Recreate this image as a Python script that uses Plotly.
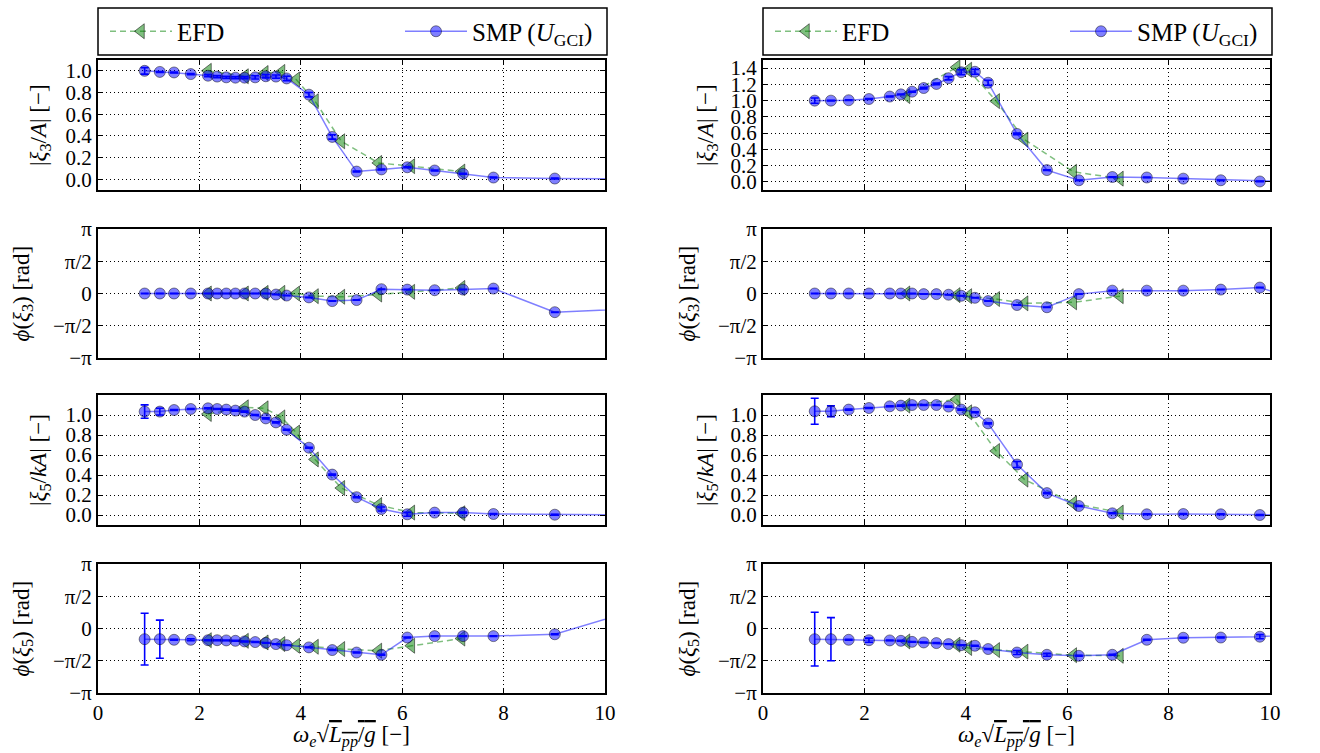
import numpy as np
import plotly.graph_objects as go

PI = np.pi

# ---------------- data ----------------
# left column (case 1)
smp_freq_left = [0.92, 1.22, 1.5, 1.83, 2.17, 2.35, 2.53, 2.71, 2.89, 3.1, 3.31, 3.51, 3.72,
                 4.16, 4.62, 5.1, 5.59, 6.1, 6.64, 7.2, 7.8, 9.01, 11.0]
efd_freq_left = [2.17, 2.9, 3.29, 3.62, 3.91, 4.28, 4.8, 5.53, 6.18, 7.17]

smp_heave_amp_left = [1.0, 0.99, 0.985, 0.97, 0.955, 0.947, 0.94, 0.937, 0.937, 0.94, 0.95, 0.947, 0.93,
                      0.78, 0.39, 0.07, 0.09, 0.11, 0.08, 0.05, 0.015, 0.006, 0.0]
smp_heave_amp_err_left = [0.03, 0.004, 0.004, 0.006, 0.01, 0.01, 0.01, 0.01, 0.01, 0.015, 0.015, 0.015, 0.02,
                          0.02, 0.02, 0.004, 0.004, 0.004, 0.004, 0.004, 0.004, 0.004, 0.0]
efd_heave_amp_left = [1.0, 0.95, 0.98, 0.99, 0.92, 0.72, 0.35, 0.15, 0.12, 0.07]

smp_heave_phase_left = [0, 0, 0, 0, 0, 0, 0, 0, 0, 0, 0, -0.05, -0.1,
                        -0.19, -0.37, -0.32, 0.21, 0.19, 0.16, 0.19, 0.24, -0.91, -0.69]
smp_heave_phase_err_left = [0.01] * 23
efd_heave_phase_left = [0, 0, 0.03, 0.03, 0, -0.13, -0.16, -0.05, 0.08, 0.27]

smp_pitch_amp_left = [1.034, 1.034, 1.05, 1.06, 1.067, 1.06, 1.054, 1.044, 1.034, 1.0, 0.966, 0.926, 0.852,
                      0.673, 0.404, 0.178, 0.06, 0.007, 0.024, 0.024, 0.01, 0.003, 0.0]
smp_pitch_amp_err_left = [0.067, 0.034, 0.005, 0.005, 0.005, 0.005, 0.005, 0.005, 0.005, 0.005, 0.005, 0.005, 0.005,
                          0.005, 0.005, 0.005, 0.02, 0.02, 0.005, 0.005, 0.005, 0.005, 0.0]
efd_pitch_amp_left = [1.01, 1.077, 1.067, 0.976, 0.825, 0.556, 0.27, 0.1, 0.024, 0.017]

smp_pitch_phase_left = [-0.52, -0.52, -0.55, -0.55, -0.57, -0.57, -0.58, -0.6, -0.63, -0.66, -0.70, -0.76, -0.81,
                        -0.92, -1.05, -1.17, -1.28, -0.44, -0.37, -0.37, -0.37, -0.28, 1.18]
smp_pitch_phase_err_left = [1.26, 0.93, 0.02, 0.05, 0.02, 0.02, 0.02, 0.02, 0.02, 0.02, 0.02, 0.02, 0.02,
                            0.02, 0.02, 0.02, 0.02, 0.02, 0.02, 0.02, 0.02, 0.02, 0.0]
efd_pitch_phase_left = [-0.57, -0.6, -0.68, -0.76, -0.84, -0.89, -1.0, -1.08, -0.84, -0.49]

# right column (case 2)
smp_freq_right = [1.02, 1.34, 1.69, 2.09, 2.5, 2.72, 2.94, 3.17, 3.42, 3.66, 3.91, 4.18, 4.44,
                  5.01, 5.6, 6.23, 6.89, 7.57, 8.29, 9.03, 9.8, 10.6]
efd_freq_right = [2.83, 3.82, 4.05, 4.6, 5.16, 6.12, 7.04]

smp_heave_amp_right = [1.0, 1.0, 1.005, 1.02, 1.05, 1.077, 1.11, 1.155, 1.205, 1.276, 1.35, 1.355, 1.22,
                       0.59, 0.145, 0.02, 0.06, 0.054, 0.04, 0.02, 0.005, 0.0]
smp_heave_amp_err_right = [0.033, 0.004, 0.004, 0.005, 0.005, 0.005, 0.005, 0.01, 0.01, 0.02, 0.03, 0.03, 0.03,
                           0.01, 0.005, 0.004, 0.004, 0.004, 0.004, 0.004, 0.004, 0.0]
efd_heave_amp_right = [1.056, 1.41, 1.38, 0.994, 0.52, 0.124, 0.04]

smp_heave_phase_right = [0, 0, 0, 0, 0, 0, 0, -0.03, -0.03, -0.06, -0.11, -0.21, -0.37,
                         -0.56, -0.67, -0.03, 0.14, 0.14, 0.14, 0.19, 0.29, -0.35]
smp_heave_phase_err_right = [0.01] * 22
efd_heave_phase_right = [0, -0.08, -0.13, -0.27, -0.48, -0.43, -0.13]

smp_pitch_amp_right = [1.037, 1.037, 1.054, 1.07, 1.087, 1.094, 1.1, 1.1, 1.1, 1.084, 1.054, 1.027, 0.916,
                       0.505, 0.219, 0.09, 0.017, 0.007, 0.01, 0.007, 0.0, 0.0]
smp_pitch_amp_err_right = [0.13, 0.054, 0.005, 0.005, 0.005, 0.005, 0.005, 0.005, 0.005, 0.005, 0.005, 0.005, 0.005,
                           0.03, 0.005, 0.005, 0.005, 0.005, 0.005, 0.005, 0.005, 0.0]
efd_pitch_amp_right = [1.094, 1.155, 1.027, 0.64, 0.354, 0.118, 0.024]

smp_pitch_phase_right = [-0.52, -0.52, -0.55, -0.57, -0.58, -0.6, -0.65, -0.68, -0.71, -0.76, -0.81, -0.84, -1.0,
                         -1.17, -1.28, -1.33, -1.28, -0.55, -0.45, -0.44, -0.4, -0.24]
smp_pitch_phase_err_right = [1.31, 1.05, 0.02, 0.1, 0.02, 0.02, 0.02, 0.02, 0.02, 0.02, 0.02, 0.02, 0.02,
                             0.1, 0.07, 0.02, 0.02, 0.02, 0.02, 0.02, 0.1, 0.0]
efd_pitch_phase_right = [-0.63, -0.79, -0.95, -1.05, -1.13, -1.3, -1.33]

amp_ticks = [0.0, 0.2, 0.4, 0.6, 0.8, 1.0]
amp_ticks_wide = [0.0, 0.2, 0.4, 0.6, 0.8, 1.0, 1.2, 1.4]
phase_tickvals = [-PI, -PI / 2, 0, PI / 2, PI]
phase_ticktext = ["\u2212\u03c0", "\u2212\u03c0/2", "0", "\u03c0/2", "\u03c0"]
x_ticks = [0, 2, 4, 6, 8, 10]

names = ["EFD", "SMP (<i>U</i><sub>GCI</sub>)"]
ytitles = ["|<i>\u03be</i><sub>3</sub>/<i>A</i>| [\u2212]",
           "<i>\u03d5</i>(<i>\u03be</i><sub>3</sub>) [rad]",
           "|<i>\u03be</i><sub>5</sub>/<i>kA</i>| [\u2212]",
           "<i>\u03d5</i>(<i>\u03be</i><sub>5</sub>) [rad]"]
xtitle = ("<i>\u03c9<sub>e</sub></i>\u221a<span style='text-decoration:overline'>"
          "<i>L<sub>pp</sub></i>/<i>g</i></span> [\u2212]")

# ---------------- layout geometry ----------------
W, H = 1320, 753
ML, MR, MT, MB = 98, 50, 60, 60
PW, PH = W - ML - MR, H - MT - MB
col_px = [(98, 605), (763, 1270)]
row_px = [(60, 190), (229, 358), (395, 525), (564, 693)]


def px2x(p):
    return (p - ML) / PW


def py2y(p):
    return (H - MB - p) / PH


panels = [
    # (row, col, efd_x, efd_y, smp_x, smp_y, smp_err, yrange, tickvals, ticktext)
    (0, 0, efd_freq_left, efd_heave_amp_left, smp_freq_left, smp_heave_amp_left, smp_heave_amp_err_left,
     [-0.1, 1.1], amp_ticks, None),
    (1, 0, efd_freq_left, efd_heave_phase_left, smp_freq_left, smp_heave_phase_left, smp_heave_phase_err_left,
     [-PI, PI], phase_tickvals, phase_ticktext),
    (2, 0, efd_freq_left, efd_pitch_amp_left, smp_freq_left, smp_pitch_amp_left, smp_pitch_amp_err_left,
     [-0.1, 1.2], amp_ticks, None),
    (3, 0, efd_freq_left, efd_pitch_phase_left, smp_freq_left, smp_pitch_phase_left, smp_pitch_phase_err_left,
     [-PI, PI], phase_tickvals, phase_ticktext),
    (0, 1, efd_freq_right, efd_heave_amp_right, smp_freq_right, smp_heave_amp_right, smp_heave_amp_err_right,
     [-0.1, 1.5], amp_ticks_wide, None),
    (1, 1, efd_freq_right, efd_heave_phase_right, smp_freq_right, smp_heave_phase_right, smp_heave_phase_err_right,
     [-PI, PI], phase_tickvals, phase_ticktext),
    (2, 1, efd_freq_right, efd_pitch_amp_right, smp_freq_right, smp_pitch_amp_right, smp_pitch_amp_err_right,
     [-0.1, 1.2], amp_ticks, None),
    (3, 1, efd_freq_right, efd_pitch_phase_right, smp_freq_right, smp_pitch_phase_right, smp_pitch_phase_err_right,
     [-PI, PI], phase_tickvals, phase_ticktext),
]

FONT = "Liberation Serif"
TICKFONT = dict(family=FONT, size=21, color="black")

fig = go.Figure()
layout = {}
annotations = []
shapes = []

for (row, col, ex, ey, sx, sy, se, yr, tv, tt) in panels:
    k = row * 2 + col + 1
    xa = "x" if k == 1 else f"x{k}"
    ya = "y" if k == 1 else f"y{k}"
    leg = "legend" if col == 0 else "legend2"
    show = row == 0
    fig.add_trace(go.Scatter(
        x=ex, y=ey, xaxis=xa, yaxis=ya, name=names[0], legend=leg, showlegend=show,
        mode="lines+markers", legendwidth=218,
        line=dict(color="rgba(0,128,0,0.5)", width=1.5, dash="6px,4px"),
        marker=dict(symbol="triangle-left", size=13, color="rgba(0,128,0,0.5)",
                    line=dict(color="rgba(0,0,0,0.5)", width=1)),
        hoverinfo="skip"))
    fig.add_trace(go.Scatter(
        x=sx, y=sy, xaxis=xa, yaxis=ya, name=names[1], legend=leg, showlegend=show,
        mode="lines+markers",
        line=dict(color="rgba(0,0,255,0.5)", width=1.5),
        marker=dict(symbol="circle", size=11, color="rgba(0,0,255,0.5)",
                    line=dict(color="rgba(0,0,0,0.45)", width=1)),
        error_y=dict(type="data", array=se, visible=True, color="blue", thickness=1.6, width=4),
        hoverinfo="skip"))

    x0p, x1p = col_px[col]
    y0p, y1p = row_px[row]
    common = dict(showline=True, linewidth=2, linecolor="black", mirror="ticks",
                  ticks="inside", ticklen=5, tickwidth=1, tickcolor="black",
                  showgrid=True, gridcolor="black", gridwidth=1, griddash="1px,3px",
                  zeroline=False, tickfont=TICKFONT)
    layout["xaxis" if k == 1 else f"xaxis{k}"] = dict(
        domain=[px2x(x0p), px2x(x1p)], anchor=ya, range=[0, 10], tickvals=x_ticks,
        showticklabels=(row == 3), **common)
    ydict = dict(domain=[py2y(y1p), py2y(y0p)], anchor=xa, range=yr, tickvals=tv, **common)
    if tt is not None:
        ydict["ticktext"] = tt
    else:
        ydict["tickformat"] = ".1f"
    layout["yaxis" if k == 1 else f"yaxis{k}"] = ydict

    # y title
    is_phase = row in (1, 3)
    if col == 0:
        tx = 22 if is_phase else 40
    else:
        tx = 688 if is_phase else 707
    annotations.append(dict(text=ytitles[row], xref="paper", yref="paper", x=px2x(tx),
                            y=py2y((y0p + y1p) / 2), xanchor="center", yanchor="middle",
                            textangle=-90, showarrow=False,
                            font=dict(family=FONT, size=23, color="black")))
    if row == 3:
        annotations.append(dict(text=xtitle, xref="paper", yref="paper",
                                x=px2x((x0p + x1p) / 2), y=py2y(737), xanchor="center",
                                yanchor="middle", showarrow=False,
                                font=dict(family=FONT, size=23, color="black")))

# legend boxes
for (x0p, x1p) in col_px:
    shapes.append(dict(type="rect", xref="paper", yref="paper", x0=px2x(x0p), x1=px2x(x1p + 2),
                       y0=py2y(55), y1=py2y(8), line=dict(color="black", width=1.5),
                       fillcolor="white", layer="below"))

legend_common = dict(orientation="h", xanchor="left", yanchor="middle", y=py2y(31.5),
                     bgcolor="rgba(0,0,0,0)", borderwidth=0, itemwidth=62,
                     font=dict(family=FONT, size=25, color="black"))
layout["legend"] = dict(x=px2x(105), **legend_common)
layout["legend2"] = dict(x=px2x(770), **legend_common)

fig.update_layout(**layout)
fig.update_layout(width=W, height=H, margin=dict(l=ML, r=MR, t=MT, b=MB, autoexpand=False),
                  paper_bgcolor="white", plot_bgcolor="white",
                  annotations=annotations, shapes=shapes,
                  font=dict(family=FONT, size=21, color="black"))

fig.write_html("out.html")
